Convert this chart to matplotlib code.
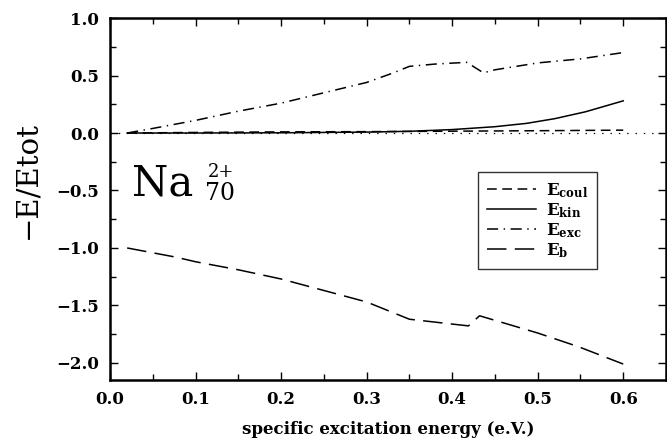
import numpy as np
import matplotlib
matplotlib.use('Agg')
import matplotlib.pyplot as plt
from matplotlib.ticker import MultipleLocator

plt.rcParams['font.family'] = 'DejaVu Serif'
plt.rcParams['mathtext.fontset'] = 'dejavuserif'
plt.rcParams['lines.scale_dashes'] = False

# energy shares vs specific excitation energy (e.V.)
x_coul = [0.02, 0.1, 0.2, 0.3, 0.4, 0.5, 0.6]
e_coul = [0.0, 0.005, 0.01, 0.012, 0.016, 0.02, 0.025]

x_kin = [0.02, 0.1, 0.2, 0.3, 0.35, 0.4, 0.45, 0.487, 0.52, 0.556, 0.6]
e_kin = [0.0, 0.0, 0.002, 0.008, 0.015, 0.03, 0.055, 0.084, 0.125, 0.185, 0.28]

x_exc = [0.02, 0.05, 0.1, 0.15, 0.2, 0.25, 0.3, 0.33, 0.35, 0.38, 0.417, 0.4365, 0.45, 0.5, 0.55, 0.6]
e_exc = [0.0, 0.04, 0.11, 0.19, 0.26, 0.35, 0.44, 0.52, 0.58, 0.60, 0.615, 0.524, 0.55, 0.61, 0.645, 0.70]

x_b = [0.02, 0.077, 0.1, 0.15, 0.2, 0.255, 0.3, 0.35, 0.419, 0.432, 0.5, 0.548, 0.6]
e_b = [-1.0, -1.08, -1.12, -1.19, -1.27, -1.38, -1.47, -1.62, -1.678, -1.59, -1.74, -1.86, -2.01]

fig = plt.figure(figsize=(6.67, 4.41), dpi=100)
ax = fig.add_axes([0.165, 0.138, 0.8335, 0.821])

ax.axhline(0.0, color='black', lw=0.9, dashes=(1, 5))
ax.plot(x_coul, e_coul, color='black', lw=1.1, dashes=(7, 4), label=r'$\mathbf{E}_{\mathbf{coul}}$')
ax.plot(x_kin, e_kin, color='black', lw=1.1, label=r'$\mathbf{E}_{\mathbf{kin}}$')
ax.plot(x_exc, e_exc, color='black', lw=1.1, dashes=(8, 4, 1, 4), label=r'$\mathbf{E}_{\mathbf{exc}}$')
ax.plot(x_b, e_b, color='black', lw=1.1, dashes=(14, 6), label=r'$\mathbf{E}_{\mathbf{b}}$')

ax.set_xlim(0.0, 0.65)
ax.set_ylim(-2.15, 1.0)
ax.xaxis.set_major_locator(MultipleLocator(0.1))
ax.xaxis.set_minor_locator(MultipleLocator(0.05))
ax.yaxis.set_major_locator(MultipleLocator(0.5))
ax.yaxis.set_minor_locator(MultipleLocator(0.25))
ax.tick_params(which='both', direction='in', top=True, right=True, width=1.0)
ax.tick_params(which='major', length=6, labelsize=12, pad=8)
ax.tick_params(which='minor', length=4)
for lab in ax.get_xticklabels() + ax.get_yticklabels():
    lab.set_fontweight('bold')
ax.yaxis.set_major_formatter(matplotlib.ticker.FuncFormatter(lambda v, p: f'{v:.1f}'.replace('-', '\u2212')))
for s in ax.spines.values():
    s.set_linewidth(1.8)

ax.set_xlabel('specific excitation energy (e.V.)', fontsize=12, fontweight='bold', labelpad=9)
ax.set_ylabel('\u2212E/Etot', fontsize=21)
ax.yaxis.set_label_coords(-0.124, 0.552)

# cluster label
ax.text(0.04, 0.511, 'Na', transform=ax.transAxes, fontsize=30, va='baseline')
ax.text(0.171, 0.497, '70', transform=ax.transAxes, fontsize=17, va='baseline')
ax.text(0.176, 0.56, '2+', transform=ax.transAxes, fontsize=13, va='baseline')

leg = ax.legend(loc='upper left', bbox_to_anchor=(0.662, 0.575), fontsize=12,
                frameon=True, fancybox=False, edgecolor='black', handlelength=2.9,
                handletextpad=0.6, labelspacing=0.08, borderpad=0.55, borderaxespad=0)
leg.get_frame().set_linewidth(1.0)

fig.savefig('out.png', dpi=100)
